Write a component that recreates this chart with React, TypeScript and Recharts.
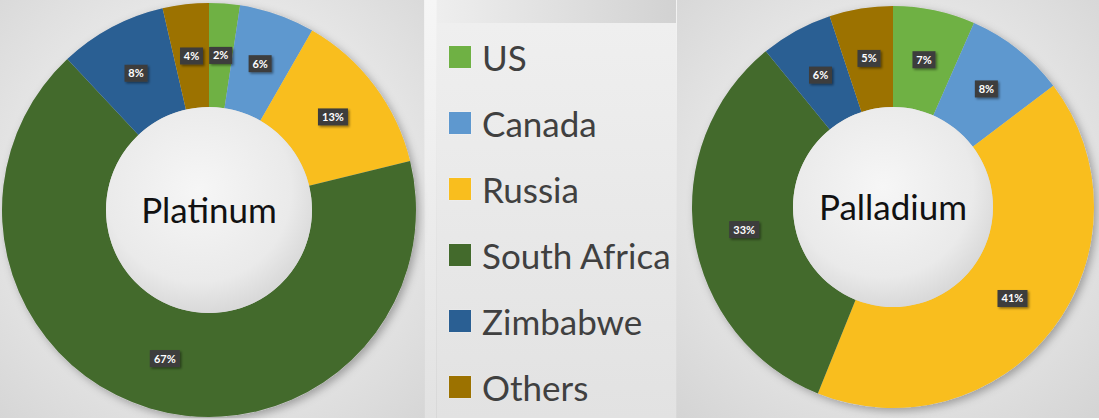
import React from 'react';
import { PieChart, Pie, Cell, Legend } from 'recharts';

const categories = ['US', 'Canada', 'Russia', 'South Africa', 'Zimbabwe', 'Others'];
const colors = ['#6fb144', '#5e98cf', '#f9be1e', '#436a2c', '#2a5f93', '#9c7200'];
const platinumValues = [2.4, 5.9, 12.9, 66.8, 8.4, 3.6];
const palladiumValues = [6.6, 8.1, 41.4, 33.0, 5.8, 5.1];
const chartTitles = ['Platinum', 'Palladium'];

const platinumData = categories.map((name, i) => ({ name, value: platinumValues[i] }));
const palladiumData = categories.map((name, i) => ({ name, value: palladiumValues[i] }));
const holeData = [{ name: 'hole', value: 1 }];

const RAD = Math.PI / 180;

const renderLabel = (props: any) => {
  const { cx, cy, midAngle, innerRadius, outerRadius, percent } = props;
  const r = (innerRadius + outerRadius) / 2;
  const x = cx + r * Math.cos(-midAngle * RAD);
  const y = cy + r * Math.sin(-midAngle * RAD);
  const text = `${Math.round(percent * 100)}%`;
  const w = 9 + text.length * 7;
  return (
    <g>
      <rect x={x - w / 2} y={y - 8.5} width={w} height={17} fill="#3d3d3d" filter="url(#lblShadow)" />
      <text x={x} y={y} dy="0.36em" textAnchor="middle" fill="#ffffff" fontSize={11} fontWeight={700} fontFamily="Lato">
        {text}
      </text>
    </g>
  );
};

const centerLabel = (title: string) => (props: any) => {
  const { cx, cy } = props;
  return (
    <text x={cx} y={cy + 13} textAnchor="middle" fill="#111111" fontSize={35} fontFamily="Lato">
      {title}
    </text>
  );
};

const renderLegend = () => (
  <div style={{ fontFamily: 'Lato', color: '#404040' }}>
    {categories.map((c, i) => (
      <div key={c} style={{ height: 66, display: 'flex', alignItems: 'center' }}>
        <div style={{ width: 22, height: 22, background: colors[i], marginRight: 11, boxShadow: '0 0 1px rgba(255,255,255,0.9)' }} />
        <span style={{ fontSize: 35, lineHeight: '66px' }}>{c}</span>
      </div>
    ))}
  </div>
);

export default function App() {
  return (
    <div style={{ position: 'absolute', left: 0, top: 0, width: 1099, height: 420, overflow: 'hidden', background: 'linear-gradient(#f3f3f3, #d8d8d8)' }}>
      <div style={{ position: 'absolute', left: 0, top: 0, width: 424, height: 418, background: 'radial-gradient(circle at 50% 45%, #f4f4f4 0%, #e6e6e6 60%, #d6d6d6 100%)' }} />
      <div style={{ position: 'absolute', left: 425, top: 0, width: 11, height: 418, background: 'linear-gradient(#f6f6f6, #e2e2e2)' }} />
      <div style={{ position: 'absolute', left: 437, top: 0, width: 239, height: 23, background: 'linear-gradient(90deg, #eeeeee, #d2d2d2)' }} />
      <div style={{ position: 'absolute', left: 437, top: 23, width: 239, height: 395, background: 'linear-gradient(#efefef, #e2e2e2)' }} />
      <div style={{ position: 'absolute', left: 677, top: 0, width: 422, height: 418, background: 'radial-gradient(circle at 50% 45%, #f4f4f4 0%, #e4e4e4 60%, #d4d4d4 100%)' }} />
      <div style={{ position: 'absolute', left: 0, top: 418, width: 1099, height: 2, background: '#ffffff' }} />
      <div style={{ position: 'absolute', left: 0, top: 0 }}>
        <PieChart width={1099} height={420} margin={{ top: 0, right: 0, bottom: 0, left: 0 }}>
          <defs>
            <radialGradient id="holeGrad" cx="45%" cy="40%" r="60%">
              <stop offset="0%" stopColor="#f6f6f6" />
              <stop offset="75%" stopColor="#eaeaea" />
              <stop offset="100%" stopColor="#d9d9d9" />
            </radialGradient>
            <filter id="lblShadow" x="-30%" y="-30%" width="170%" height="170%">
              <feDropShadow dx="1.5" dy="1.5" stdDeviation="1" floodColor="#000" floodOpacity="0.45" />
            </filter>
            <filter id="ringShadow" x="-10%" y="-10%" width="125%" height="125%">
              <feDropShadow dx="3" dy="3" stdDeviation="4" floodColor="#000" floodOpacity="0.3" />
            </filter>
          </defs>
          <Pie data={holeData} dataKey="value" cx={209} cy={210} outerRadius={207} innerRadius={0} fill="#cccccc" stroke="none" filter="url(#ringShadow)" isAnimationActive={false} />
          <Pie data={holeData} dataKey="value" cx={893} cy={207} outerRadius={201} innerRadius={0} fill="#cccccc" stroke="none" filter="url(#ringShadow)" isAnimationActive={false} />
          <Pie
            data={platinumData}
            dataKey="value"
            nameKey="name"
            cx={209}
            cy={210}
            innerRadius={103}
            outerRadius={207}
            startAngle={90}
            endAngle={-270}
            stroke="none"
            label={renderLabel}
            labelLine={false}
            isAnimationActive={false}
          >
            {platinumData.map((d, i) => (
              <Cell key={d.name} fill={colors[i]} />
            ))}
          </Pie>
          <Pie
            data={palladiumData}
            dataKey="value"
            nameKey="name"
            cx={893}
            cy={207}
            innerRadius={100}
            outerRadius={201}
            startAngle={90}
            endAngle={-270}
            stroke="none"
            label={renderLabel}
            labelLine={false}
            isAnimationActive={false}
          >
            {palladiumData.map((d, i) => (
              <Cell key={d.name} fill={colors[i]} />
            ))}
          </Pie>
          <Pie data={holeData} dataKey="value" cx={209} cy={210} outerRadius={103} innerRadius={0} fill="url(#holeGrad)" stroke="none" label={centerLabel(chartTitles[0])} labelLine={false} isAnimationActive={false} />
          <Pie data={holeData} dataKey="value" cx={893} cy={207} outerRadius={100} innerRadius={0} fill="url(#holeGrad)" stroke="none" label={centerLabel(chartTitles[1])} labelLine={false} isAnimationActive={false} />
          <Legend
            layout="vertical"
            align="center"
            verticalAlign="middle"
            content={renderLegend}
            wrapperStyle={{ left: 449, top: 24, width: 230 }}
          />
        </PieChart>
      </div>
    </div>
  );
}
